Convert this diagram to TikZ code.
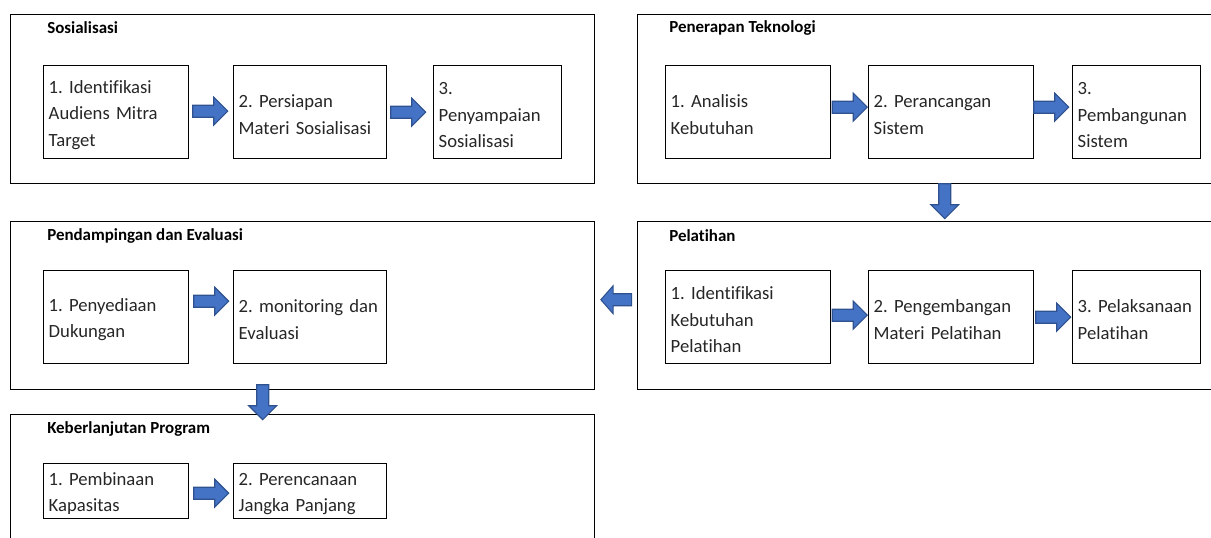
\documentclass[tikz,border=0pt]{standalone}
\usepackage{fontspec}
\setmainfont{Carlito}[Ligatures=NoCommon]
\usetikzlibrary{calc}
\definecolor{arrfill}{HTML}{4472C4}
\definecolor{arrline}{HTML}{2F528F}
\tikzset{
  outerbox/.style={draw=black, line width=1.1pt, rectangle, anchor=north west, inner sep=0pt},
  innerbox/.style={draw=black, line width=1.1pt, rectangle, anchor=north west, inner xsep=3.75pt, inner ysep=0pt,
    font=\fontsize{14}{19.9}\selectfont\frenchspacing, align=left, text=black!85,
    execute at begin node={\rule{0pt}{13.5pt}}},
  grouptitle/.style={anchor=west, inner sep=0pt, font=\fontsize{12.7}{14}\selectfont\bfseries},
  blockarrow/.pic={\draw[fill=arrfill, draw=arrline, line width=0.8pt]
    (-17.5,-6) -- (3.5,-6) -- (3.5,-14) -- (17.5,0) -- (3.5,14) -- (3.5,6) -- (-17.5,6) -- cycle;}
}
\begin{document}
\begin{tikzpicture}[x=0.75pt, y=-0.75pt]
\useasboundingbox (0,0) rectangle (1211,538);
\clip (0,0) rectangle (1211,538);

% group frames
\node[outerbox, minimum width=438pt, minimum height=126.75pt] (soc) at (10,14) {};
\node[outerbox, minimum width=437.25pt, minimum height=126.75pt] (tech) at (637,14) {};
\node[outerbox, minimum width=438pt, minimum height=126pt] (pend) at (10,221) {};
\node[outerbox, minimum width=437.25pt, minimum height=126pt] (pel) at (637,221) {};
\node[outerbox, minimum width=438pt, minimum height=101.25pt] (keb) at (10,414) {};

% titles
\node[grouptitle] (tsoc) at (47,28) {Sosialisasi};
\node[grouptitle] (ttech) at (669,28) {Penerapan Teknologi};
\node[grouptitle] (tpend) at (47,236) {Pendampingan dan Evaluasi};
\node[grouptitle] (tpel) at (669,236) {Pelatihan};
\node[grouptitle] (tkeb) at (47,429) {Keberlanjutan Program};

% Sosialisasi
\node[innerbox, text width=101.25pt, minimum height=69.75pt] (s1) at (43,65) {1. Identifikasi\\Audiens Mitra\\Target};
\node[innerbox, text width=107.25pt, minimum height=69.75pt] (s2) at (233,65) {2. Persiapan\\Materi Sosialisasi};
\node[innerbox, text width=88.5pt, minimum height=69.75pt] (s3) at (433,65) {3.\\Penyampaian\\Sosialisasi};

% Penerapan Teknologi
\node[innerbox, text width=116.25pt, minimum height=69.75pt] (t1) at (665,65) {1. Analisis\\Kebutuhan};
\node[innerbox, text width=116.25pt, minimum height=69.75pt] (t2) at (868,65) {2. Perancangan\\Sistem};
\node[innerbox, text width=88.5pt, minimum height=69.75pt] (t3) at (1072,65) {3.\\Pembangunan\\Sistem};

% Pendampingan dan Evaluasi
\node[innerbox, text width=101.25pt, minimum height=69.75pt] (p1) at (43,270) {1. Penyediaan\\Dukungan};
\node[innerbox, text width=107.25pt, minimum height=69.75pt] (p2) at (233,270) {2. monitoring dan\\Evaluasi};

% Pelatihan
\node[innerbox, text width=116.25pt, minimum height=69.75pt] (l1) at (665,270) {1. Identifikasi\\Kebutuhan\\Pelatihan};
\node[innerbox, text width=116.25pt, minimum height=69.75pt] (l2) at (868,270) {2. Pengembangan\\Materi Pelatihan};
\node[innerbox, text width=88.5pt, minimum height=69.75pt] (l3) at (1072,270) {3. Pelaksanaan\\Pelatihan};

% Keberlanjutan Program
\node[innerbox, text width=101.25pt, minimum height=41.25pt] (k1) at (43,463) {1. Pembinaan\\Kapasitas};
\node[innerbox, text width=107.25pt, minimum height=41.25pt] (k2) at (233,463) {2. Perencanaan\\Jangka Panjang};

% block arrows
\pic at ($(s1.east)!0.5!(s2.west)+(-1,-1)$) {blockarrow};
\pic at ($(s2.east)!0.5!(s3.west)+(-2,0)$) {blockarrow};
\pic at ($(t1.east)!0.5!(t2.west)+(0,-5)$) {blockarrow};
\pic at ($(t2.east)!0.5!(t3.west)+(-2,-5)$) {blockarrow};
\pic[rotate=-90] at ($(tech.south)!0.5!(pel.north)+(15.5,-1.5)$) {blockarrow};
\pic at ($(l1.east)!0.5!(l2.west)+(0,-2)$) {blockarrow};
\pic at ($(l2.east)!0.5!(l3.west)+(0,0)$) {blockarrow};
\pic[rotate=180, xscale=0.88] at ($(pel.west)!0.5!(pend.east)+(0,-6)$) {blockarrow};
\pic at ($(p1.east)!0.5!(p2.west)+(0,-16)$) {blockarrow};
\pic[rotate=-90] at ($(pend.south)!0.5!(keb.north)+(-40,0)$) {blockarrow};
\pic at ($(k1.east)!0.5!(k2.west)+(0,2)$) {blockarrow};
\end{tikzpicture}
\end{document}
